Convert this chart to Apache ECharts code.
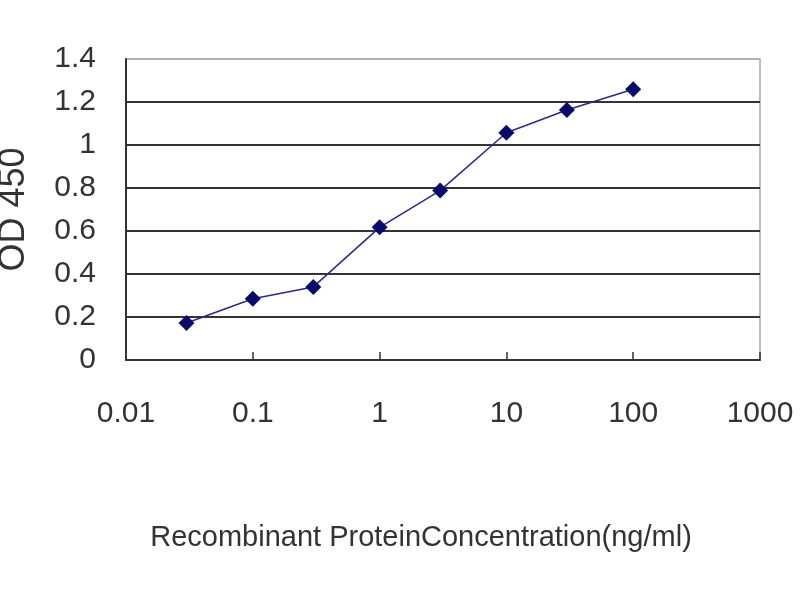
<!DOCTYPE html>
<html>
<head>
<meta charset="utf-8">
<script src="https://cdn.jsdelivr.net/npm/echarts@6/dist/echarts.min.js"></script>
<style>html,body{margin:0;padding:0;background:#fff;}#c{width:800px;height:600px;}</style>
</head>
<body>
<div id="c"></div>
<script>
const concentrations = [0.03, 0.1, 0.3, 1, 3, 10, 30, 100];
const od450 = [0.172, 0.285, 0.340, 0.617, 0.788, 1.057, 1.163, 1.259];
const xTickLabels = ['0.01', '0.1', '1', '10', '100', '1000'];
const yTickLabels = ['0', '0.2', '0.4', '0.6', '0.8', '1', '1.2', '1.4'];
const xTitle = 'Recombinant ProteinConcentration(ng/ml)';
const yTitle = 'OD 450';

const chart = echarts.init(document.getElementById('c'), null, {renderer: 'canvas'});
const font = 'Liberation Sans, Arial, sans-serif';
chart.setOption({
  animation: false,
  backgroundColor: '#fff',
  grid: {left: 126, right: 40, top: 59, bottom: 240, containLabel: false, outerBoundsMode: 'none',
    show: true, borderColor: '#a8a8a8', borderWidth: 1.5, backgroundColor: 'transparent'},
  xAxis: {
    type: 'log', logBase: 10, min: 0.01, max: 1000,
    name: xTitle, nameLocation: 'middle', nameGap: 163,
    nameTextStyle: {fontFamily: font, fontSize: 29, color: '#333', padding: [0, 44, 0, 0]},
    axisLine: {show: true, lineStyle: {color: '#333', width: 2}},
    axisTick: {show: true, inside: true, length: 8, lineStyle: {color: '#333', width: 1.5}},
    minorTick: {show: false},
    splitLine: {show: false},
    axisLabel: {margin: 39, fontFamily: font, fontSize: 30, color: '#333',
      formatter: (v, i) => xTickLabels[i] !== undefined ? xTickLabels[i] : String(v)}
  },
  yAxis: {
    type: 'value', min: 0, max: 1.4, interval: 0.2,
    name: yTitle, nameLocation: 'middle', nameGap: 94, nameRotate: 90,
    nameTextStyle: {fontFamily: font, fontSize: 36, color: '#333'},
    axisLine: {show: true, lineStyle: {color: '#333', width: 2}},
    axisTick: {show: false},
    splitLine: {show: true, lineStyle: {color: ['#333','#333','#333','#333','#333','#333','#333','#b0b0b0'], width: 2}},
    axisLabel: {margin: 30, fontFamily: font, fontSize: 30, color: '#333',
      formatter: (v, i) => yTickLabels[i] !== undefined ? yTickLabels[i] : String(v)}
  },
  series: [{
    type: 'line',
    data: concentrations.map((c, i) => [c, od450[i]]),
    symbol: 'diamond', symbolSize: 16,
    lineStyle: {color: '#2a2a8c', width: 1.5},
    itemStyle: {color: '#0a0a6a'}
  }]
});
</script>
</body>
</html>
